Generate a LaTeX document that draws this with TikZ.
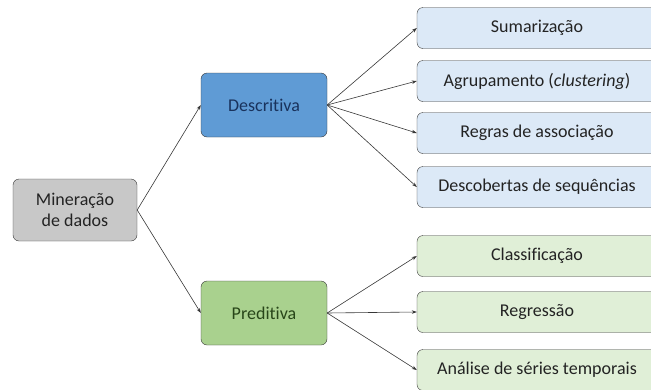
\documentclass[tikz,border=0pt]{standalone}
\usepackage{fontspec}
\setmainfont[Ligatures=NoCommon]{Carlito}
\usepackage{tikz}
\usetikzlibrary{arrows.meta}
\definecolor{boxline}{RGB}{55,55,55}
\definecolor{rootfill}{RGB}{200,200,200}
\definecolor{descfill}{RGB}{95,155,213}
\definecolor{descleaf}{RGB}{220,233,247}
\definecolor{predfill}{RGB}{169,209,142}
\definecolor{predleaf}{RGB}{224,239,215}
\definecolor{desctext}{RGB}{25,50,92}
\definecolor{predtext}{RGB}{40,70,25}
\definecolor{leaftext}{RGB}{35,35,35}

\begin{document}
\begin{tikzpicture}[x=1pt, y=-1pt,
  base/.style={draw=boxline, rounded corners=6pt, inner sep=0pt,
               font=\fontsize{18}{21}\selectfont, align=center},
  rootbox/.style={base, fill=rootfill, minimum width=124pt, minimum height=62pt,
                  text=leaftext},
  descbox/.style={base, fill=descfill, minimum width=126pt, minimum height=64pt,
                  text=desctext},
  predbox/.style={base, fill=predfill, minimum width=126pt, minimum height=64pt,
                  text=predtext},
  dleaf/.style={base, fill=descleaf, minimum width=240pt, minimum height=41pt,
                text=leaftext},
  pleaf/.style={base, fill=predleaf, minimum width=240pt, minimum height=41pt,
                text=leaftext},
  arrow/.style={-{Stealth[length=5pt,width=3.5pt]}, color=boxline, semithick}
]
\useasboundingbox (0,0) rectangle (651,389);

% Root
\node[rootbox] (root) at (75,210) {Mineração\\de dados};

% Descriptive branch
\node[descbox] (desc) at (264,105) {Descritiva};
\node[dleaf] (sum) at (537,28)  {Sumarização};
\node[dleaf] (agr) at (537,81)  {Agrupamento (\textit{clustering})};
\node[dleaf] (reg) at (537,133) {Regras de associação};
\node[dleaf] (seq) at (537,187) {Descobertas de sequências};

% Predictive branch
\node[predbox] (pred) at (264,313) {Preditiva};
\node[pleaf] (cls) at (537,256) {Classificação};
\node[pleaf] (rgr) at (537,312) {Regressão};
\node[pleaf] (ana) at (537,370) {Análise de séries temporais};

% Arrows
\draw[arrow] (root.east) -- (desc.west);
\draw[arrow] (root.east) -- (pred.west);
\foreach \leaf in {sum, agr, reg, seq}
  \draw[arrow] (desc.east) -- (\leaf.west);
\foreach \leaf in {cls, rgr, ana}
  \draw[arrow] (pred.east) -- (\leaf.west);

\end{tikzpicture}
\end{document}
